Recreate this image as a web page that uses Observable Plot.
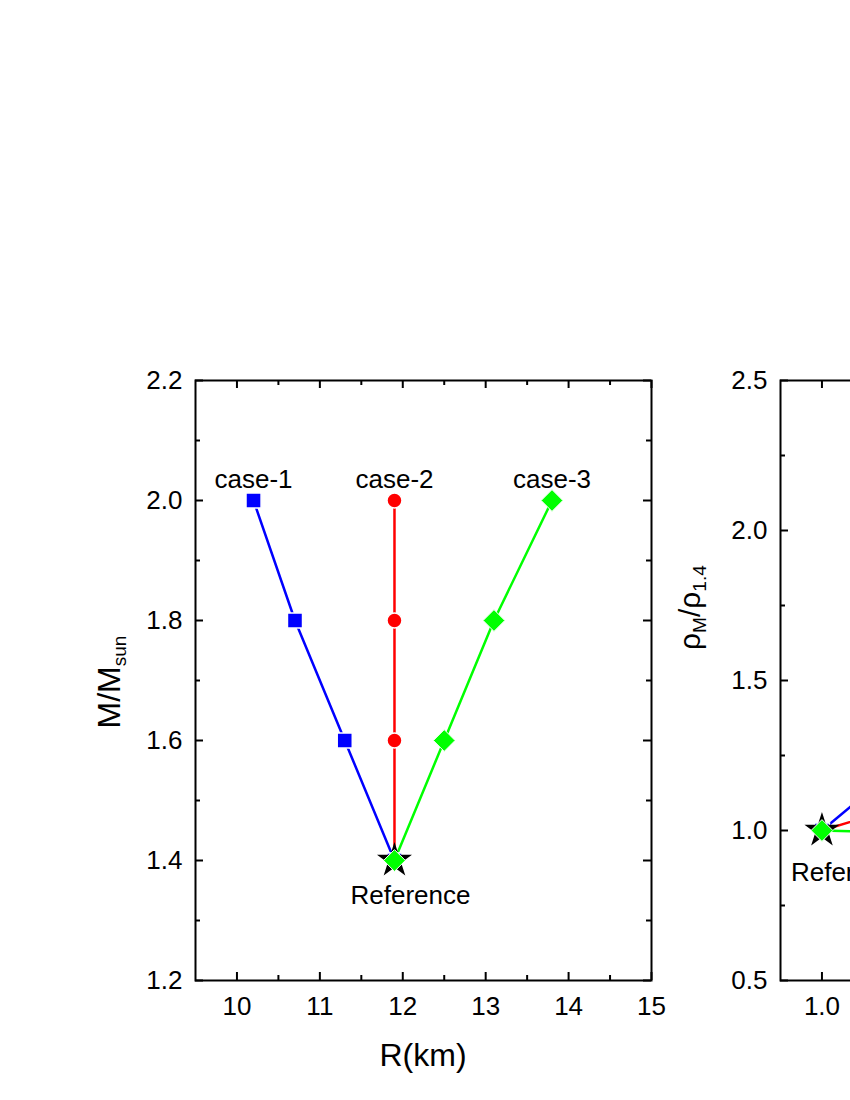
<!DOCTYPE html>
<html><head><meta charset="utf-8">
<script src="https://cdn.jsdelivr.net/npm/d3@7"></script>
<script src="https://cdn.jsdelivr.net/npm/@observablehq/plot@0.6"></script>
<style>
html,body{margin:0;padding:0;background:#fff;overflow:hidden;width:850px;height:1100px}
#wrap{position:relative;width:850px;height:1100px;overflow:hidden;background:#fff}
#wrap svg{position:absolute;top:0}
</style></head><body><div id="wrap"></div>
<script>
// ---------- data: left panel (M/Msun vs R) ----------
const massLevels  = [1.4, 1.6, 1.8, 2.0];
const radiusCase1 = [11.9, 11.3, 10.7, 10.2];
const radiusCase2 = [11.9, 11.9, 11.9, 11.9];
const radiusCase3 = [11.9, 12.5, 13.1, 13.8];
const caseNames   = ["case-1", "case-2", "case-3"];
const caseColors  = ["#0000ff", "#ff0000", "#00ff00"];
const caseSymbols = ["square", "circle", "diamond2"];
const referenceR  = [11.9];
const referenceM  = [1.4];
const referenceLabel = ["Reference"];

// ---------- data: right panel (rho_M/rho_1.4) ----------
const massRatio = [1.0, 1.143, 1.286, 1.429];
const rhoCase1  = [1.0, 1.33, 1.72, 2.25];
const rhoCase2  = [1.0, 1.12, 1.27, 1.45];
const rhoCase3  = [1.0, 0.99, 0.97, 0.95];
const referenceX = [1.0];
const referenceRho = [1.0];

// ---------- tick labels ----------
const leftXTicks  = [10, 11, 12, 13, 14, 15];
const leftXMinor  = [10.5, 11.5, 12.5, 13.5, 14.5];
const leftYTicks  = [1.2, 1.4, 1.6, 1.8, 2.0, 2.2];
const leftYMinor  = [1.3, 1.5, 1.7, 1.9, 2.1];
const rightXTicks = [1.0, 1.1, 1.2, 1.3, 1.4, 1.5];
const rightXMinor = [1.05, 1.15, 1.25, 1.35, 1.45];
const rightYTicks = [0.5, 1.0, 1.5, 2.0, 2.5];
const rightYMinor = [0.75, 1.25, 1.75, 2.25];

// ---------- tables built from the arrays ----------
const leftRadii = [radiusCase1, radiusCase2, radiusCase3];
const leftRows = caseNames.flatMap((c, i) => massLevels.map((m, j) => ({case: c, x: leftRadii[i][j], y: m})));
const rightRhos = [rhoCase1, rhoCase2, rhoCase3];
const rightRows = caseNames.flatMap((c, i) => massRatio.map((m, j) => ({case: c, x: m, y: rightRhos[i][j]})));
const leftRef = referenceR.map((r, i) => ({x: r, y: referenceM[i], label: referenceLabel[i]}));
const rightRef = referenceX.map((r, i) => ({x: r, y: referenceRho[i], label: referenceLabel[i]}));

const W = 700, H = 1100, ML = 195, MR = 49, MT = 380, MB = 120;
const IW = W - ML - MR, IH = H - MT - MB;
const FONT = "Liberation Sans, Arial, Helvetica, sans-serif";

function tickMarks(xMaj, xMin, yMaj, yMin) {
  const maj = 8, mn = 5, sw = 2;
  const o = {strokeWidth: sw, stroke: "black"};
  return [
    Plot.tickX(xMaj, {x: d => d, insetTop: IH - maj, ...o}),
    Plot.tickX(xMaj, {x: d => d, insetBottom: IH - maj, ...o}),
    Plot.tickX(xMin, {x: d => d, insetTop: IH - mn, ...o}),
    Plot.tickX(xMin, {x: d => d, insetBottom: IH - mn, ...o}),
    Plot.tickY(yMaj, {y: d => d, insetRight: IW - maj, ...o}),
    Plot.tickY(yMaj, {y: d => d, insetLeft: IW - maj, ...o}),
    Plot.tickY(yMin, {y: d => d, insetRight: IW - mn, ...o}),
    Plot.tickY(yMin, {y: d => d, insetLeft: IW - mn, ...o})
  ];
}

function seriesMarks(rows, ref) {
  const marks = [Plot.line(rows, {x: "x", y: "y", stroke: "case", strokeWidth: 2.5})];
  [0, 1].forEach(i => marks.push(Plot.dot(rows.filter(d => d.case === caseNames[i]),
    {x: "x", y: "y", fill: "case", symbol: caseSymbols[i], r: i === 1 ? 7.5 : 8.5, stroke: "white", strokeWidth: 1.5})));
  marks.push(Plot.dot(ref, {x: "x", y: "y", symbol: "star", fill: "black", r: 11}));
  marks.push(Plot.dot(rows.filter(d => d.case === caseNames[2]),
    {x: "x", y: "y", fill: "case", symbol: caseSymbols[2], r: 9.8, stroke: "white", strokeWidth: 1}));
  return marks;
}

function panel(opts) {
  return Plot.plot({
    width: W, height: H, marginLeft: ML, marginRight: MR, marginTop: MT, marginBottom: MB,
    style: {background: "transparent", fontFamily: FONT, color: "black", maxWidth: "none", overflow: "visible"},
    x: {domain: opts.xDomain, axis: null},
    y: {domain: opts.yDomain, axis: null},
    color: {domain: caseNames, range: caseColors},
    marks: [
      ...seriesMarks(opts.rows, opts.ref),
      ...opts.extra,
      ...tickMarks(opts.xMaj, opts.xMin, opts.yMaj, opts.yMin),
      Plot.frame({stroke: "black", strokeWidth: 2}),
      Plot.axisX(opts.xMaj, {anchor: "bottom", tickSize: 0, tickPadding: 16, fontSize: 26, tickFormat: opts.xFmt, label: null}),
      Plot.axisY(opts.yMaj, {anchor: "left", tickSize: 0, tickPadding: 13, fontSize: 26, tickFormat: d3.format(".1f"), label: null})
    ]
  });
}

const left = panel({
  xDomain: [9.5, 15], yDomain: [1.2, 2.2], rows: leftRows, ref: leftRef,
  xMaj: leftXTicks, xMin: leftXMinor, yMaj: leftYTicks, yMin: leftYMinor, xFmt: d3.format("d"),
  extra: [
    Plot.text(leftRows.filter(d => d.y === d3.max(massLevels)), {x: "x", y: "y", text: "case", dy: -13, lineAnchor: "bottom", fontSize: 26, fill: "black"}),
    Plot.text(leftRef, {x: "x", y: "y", text: "label", dx: 16, dy: 43, lineAnchor: "bottom", fontSize: 26, fill: "black"})
  ]
});
const right = panel({
  xDomain: [0.95, 1.5], yDomain: [0.5, 2.5], rows: rightRows, ref: rightRef,
  xMaj: rightXTicks, xMin: rightXMinor, yMaj: rightYTicks, yMin: rightYMinor, xFmt: d3.format(".1f"),
  extra: [
    Plot.text(rightRef, {x: "x", y: "y", text: "label", dx: -31, dy: 50, textAnchor: "start", lineAnchor: "bottom", fontSize: 26, fill: "black"})
  ]
});

const wrap = document.getElementById("wrap");
left.style.left = "0px";
right.style.left = "585px";
wrap.appendChild(left);
wrap.appendChild(right);

// axis titles (with subscripts)
const ls = d3.select(left);
ls.append("text").attr("x", ML + IW / 2).attr("y", 1066).attr("text-anchor", "middle")
  .attr("font-size", 32).attr("font-family", FONT).attr("fill", "black").text("R(km)");
const mt = ls.append("text").attr("transform", "translate(120,682) rotate(-90)").attr("text-anchor", "middle")
  .attr("font-size", 32).attr("font-family", FONT).attr("fill", "black");
mt.append("tspan").text("M/M");
mt.append("tspan").attr("font-size", 19).attr("dy", 6).text("sun");

const rs = d3.select(right);
const rt = rs.append("text").attr("transform", `translate(${700 - 585},650) rotate(-90)`).attr("text-anchor", "start")
  .attr("font-size", 30).attr("font-family", FONT).attr("fill", "black");
rt.append("tspan").text("ρ");
rt.append("tspan").attr("font-size", 19).attr("dy", 6).text("M");
rt.append("tspan").attr("dy", -6).text("/ρ");
rt.append("tspan").attr("font-size", 19).attr("dy", 6).text("1.4");
</script></body></html>
